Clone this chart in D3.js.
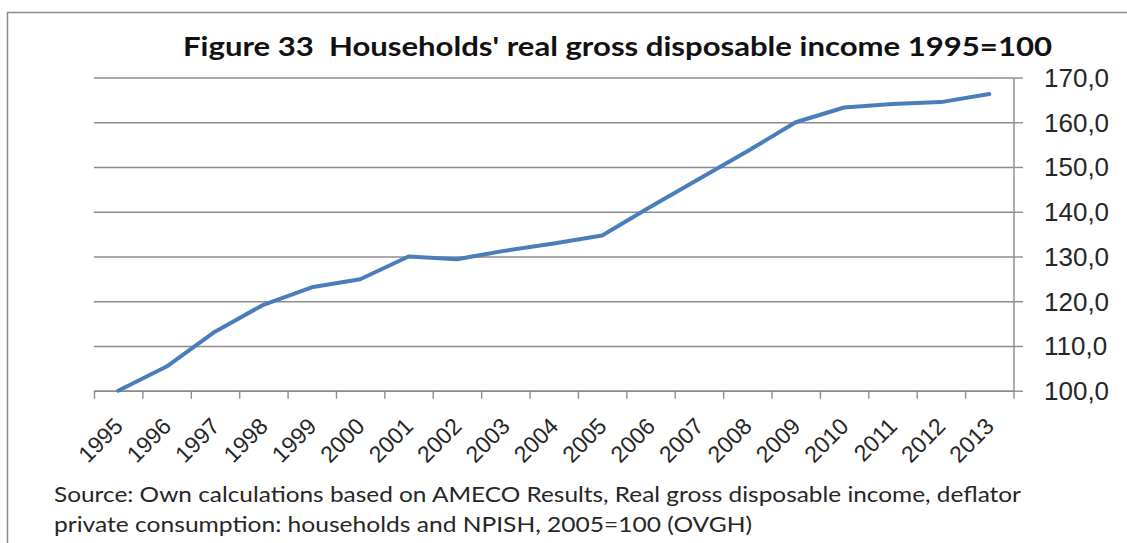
<!DOCTYPE html>
<html>

<head>
    <meta charset="utf-8" />
    <title>Figure 33</title>
    <style>
        body { margin: 0; background: #fff; }
        svg { display: block; font-family: Lato, "Open Sans", sans-serif; }
    </style>
</head>

<body>
    <svg width=1127 height=543></svg>
</body>

<script src="https://d3js.org/d3.v7.min.js"></script>
<script>
    // data
    var annees = ['1995', '1996', '1997', '1998', '1999', '2000', '2001', '2002', '2003', '2004',
        '2005', '2006', '2007', '2008', '2009', '2010', '2011', '2012', '2013'];
    var revenu = [100.0, 105.4, 113.2, 119.2, 123.1, 124.9, 130.0, 129.4, 131.3, 132.9,
        134.7, 141.1, 147.3, 153.5, 160.0, 163.3, 164.1, 164.5, 166.3];
    var graduations = [100, 110, 120, 130, 140, 150, 160, 170];

    var titre = "Figure 33  Households' real gross disposable income 1995=100";
    var source1 = 'Source: Own calculations based on AMECO Results, Real gross disposable income, deflator';
    var source2 = 'private consumption: households and NPISH, 2005=100 (OVGH)';

    var gauche = 94, droite = 1013.5, haut = 77.5, bas = 390.7;
    var gris = '#8c8c8c';

    var svg = d3.select('svg');

    // cadre du graphique
    svg.append('path')
        .attr('d', 'M7.5,543 V12.5 H1127')
        .attr('fill', 'none')
        .attr('stroke', '#8a8a8a')
        .attr('stroke-width', 1.5);

    var x = d3.scaleBand()
        .domain(annees)
        .range([gauche, droite]);

    var bords = d3.scaleLinear()
        .domain([0, annees.length])
        .range([gauche, droite]);

    var y = d3.scaleLinear()
        .domain([100, 170])
        .range([bas, haut]);

    // lignes de grille
    svg.append('g')
        .attr('transform', 'translate(' + droite + ',0)')
        .call(d3.axisRight(y).tickValues(graduations).tickSize(-(droite - gauche)).tickSizeOuter(0).tickFormat(''))
        .call(function (g) {
            g.select('.domain').remove();
            g.selectAll('line').attr('stroke', gris).attr('stroke-width', 1.4);
        });

    // axe de droite
    svg.append('g')
        .attr('transform', 'translate(' + droite + ',0)')
        .call(d3.axisRight(y).tickValues(graduations).tickSize(9.5).tickSizeOuter(0).tickPadding(21)
            .tickFormat(function (d) {
                return d3.format('.1f')(d).replace('.', ',');
            }))
        .call(function (g) {
            g.select('.domain').attr('stroke', gris).attr('stroke-width', 1.4);
            g.selectAll('line').attr('stroke', gris).attr('stroke-width', 1.4);
            g.selectAll('text')
                .attr('font-size', 26)
                .attr('fill', '#262626')
                .attr('dy', '0.34em');
        });

    // axe du bas : graduations entre les années
    svg.append('g')
        .attr('transform', 'translate(0,' + bas + ')')
        .call(d3.axisBottom(bords).tickValues(d3.range(annees.length + 1)).tickSize(8).tickSizeOuter(0).tickFormat(''))
        .call(function (g) {
            g.select('.domain').attr('stroke', gris).attr('stroke-width', 1.4);
            g.selectAll('line').attr('stroke', gris).attr('stroke-width', 1.4);
        });

    // étiquettes des années, inclinées
    svg.append('g')
        .attr('transform', 'translate(0,' + bas + ')')
        .call(d3.axisBottom(x).tickSize(0))
        .call(function (g) {
            g.select('.domain').remove();
            g.selectAll('text')
                .attr('x', 0)
                .attr('y', 0)
                .attr('dy', 0)
                .attr('font-size', 23)
                .attr('fill', '#262626')
                .attr('text-anchor', 'end')
                .attr('transform', 'translate(6,37) rotate(-45)');
        });

    // la courbe
    var ligne = d3.line()
        .x(function (d, i) {
            return x(annees[i]) + x.bandwidth() / 2;
        })
        .y(function (d) {
            return y(d);
        });

    svg.append('path')
        .datum(revenu)
        .attr('d', ligne)
        .attr('fill', 'none')
        .attr('stroke', '#4a7ebb')
        .attr('stroke-width', 4)
        .attr('stroke-linejoin', 'round')
        .attr('stroke-linecap', 'round');

    // titre et source
    svg.append('text')
        .attr('x', 183)
        .attr('y', 56)
        .attr('font-size', 26)
        .attr('font-weight', 'bold')
        .attr('fill', '#111')
        .attr('textLength', 869)
        .attr('lengthAdjust', 'spacingAndGlyphs')
        .style('white-space', 'pre')
        .text(titre);

    svg.append('text')
        .attr('x', 54)
        .attr('y', 502)
        .attr('font-size', 22)
        .attr('fill', '#262626')
        .attr('textLength', 967)
        .attr('lengthAdjust', 'spacingAndGlyphs')
        .text(source1);

    svg.append('text')
        .attr('x', 54)
        .attr('y', 532)
        .attr('font-size', 22)
        .attr('fill', '#262626')
        .attr('textLength', 698)
        .attr('lengthAdjust', 'spacingAndGlyphs')
        .text(source2);
</script>

</html>
